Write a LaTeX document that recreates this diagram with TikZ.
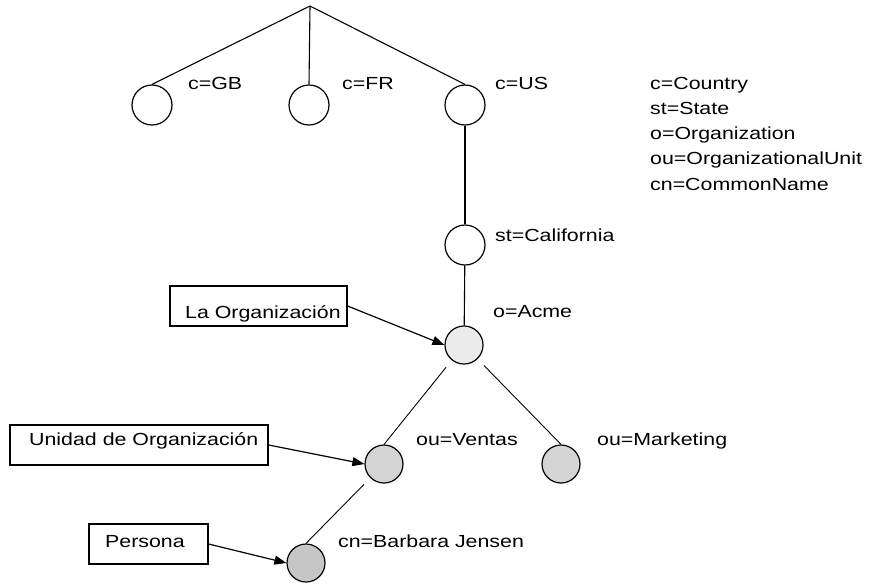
\documentclass[tikz,border=0pt]{standalone}
\usepackage{fontspec}
\setmainfont{Liberation Sans}[FakeStretch=1.22]
\usetikzlibrary{arrows.meta}
\definecolor{shadeA}{HTML}{EBEBEB}
\definecolor{shadeB}{HTML}{D4D4D4}
\definecolor{shadeC}{HTML}{C6C6C6}
\begin{document}
\begin{tikzpicture}[x=1pt,y=-1pt,
  txt/.style={anchor=base west, inner sep=0pt, font=\fontsize{17.5}{25}\selectfont},
  vertex/.style={circle, draw, line width=1.2pt, minimum size=40pt, inner sep=0pt, fill=white},
  leaf/.style={vertex, minimum size=38pt},
  tag/.style={draw, line width=1.2pt, inner sep=0pt},
  edge/.style={line width=1.1pt},
  thin/.style={line width=0.9pt, shorten <=9pt},
  pointer/.style={line width=1.2pt, -{Triangle[length=12pt,width=9pt]}}
]
% canvas
\fill[white] (0,0) rectangle (873,587);
\useasboundingbox (0,0) rectangle (873,587);

% tree nodes
\coordinate (root) at (310,6);
\node[vertex] (gb) at (152,105) {};
\node[vertex] (fr) at (309,105) {};
\node[vertex] (us) at (465,105) {};
\node[vertex] (cal) at (465,245) {};
\node[leaf, fill=shadeA] (acme) at (464,345) {};
\node[leaf, fill=shadeB] (ventas) at (384,464) {};
\node[leaf, fill=shadeB] (mkt) at (561,464) {};
\node[leaf, fill=shadeC] (bj) at (306,563) {};

% tree edges
\draw[edge] (root) -- (gb.north);
\draw[edge] (root) -- (fr.north);
\draw[edge] (root) -- (us.north);
\draw[edge] (us) -- (cal);
\draw[edge] (cal) -- (acme);
\draw[thin] (acme) -- (ventas.north);
\draw[thin] (acme) -- (mkt.north);
\draw[thin] (ventas) -- (bj.north);

% entry labels
\node[txt] (lgb) at (188,89) {c=GB};
\node[txt] (lfr) at (342,89) {c=FR};
\node[txt] (lus) at (495,89) {c=US};
\node[txt] (lcal) at (495,241) {st=California};
\node[txt] (lacme) at (493,317) {o=Acme};
\node[txt] (lven) at (416,445) {ou=Ventas};
\node[txt] (lmkt) at (597,445) {ou=Marketing};
\node[txt] (lbj) at (338,547) {cn=Barbara Jensen};

% legend
\node[txt] (k1) at (650,89) {c=Country};
\node[txt] (k2) at (650,114.3) {st=State};
\node[txt] (k3) at (650,139.6) {o=Organization};
\node[txt] (k4) at (650,164.9) {ou=OrganizationalUnit};
\node[txt] (k5) at (650,190.2) {cn=CommonName};

% callout boxes
\node[tag, minimum width=177pt, minimum height=40pt] (borg) at (258.5,306) {};
\node[txt] at (185,318) {La Organización};
\node[tag, minimum width=258pt, minimum height=40pt] (bunit) at (139,445) {};
\node[txt] at (29,445) {Unidad de Organización};
\node[tag, minimum width=119pt, minimum height=40pt] (bper) at (148.5,544) {};
\node[txt] at (105,547) {Persona};

% callout arrows
\draw[pointer] (borg.east) -- (acme.west);
\draw[pointer] (bunit.east) -- (ventas.west);
\draw[pointer] (bper.east) -- (bj.west);
\end{tikzpicture}
\end{document}
